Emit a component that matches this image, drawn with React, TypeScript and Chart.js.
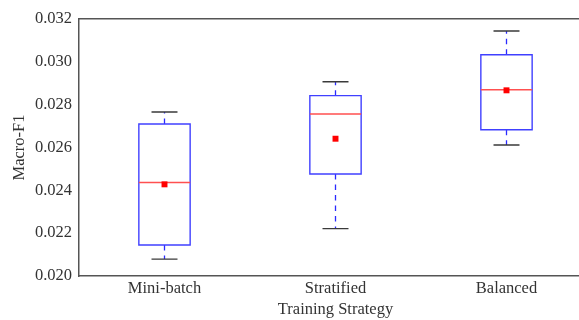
import React, { useEffect, useRef } from "react";
import { Chart, registerables } from "chart.js";

Chart.register(...registerables);

const categories = ["Mini-batch", "Stratified", "Balanced"];
const whiskerLow = [0.02079, 0.02221, 0.02612];
const q1 = [0.02145, 0.02476, 0.02683];
const median = [0.02436, 0.02756, 0.0287];
const q3 = [0.0271, 0.02842, 0.03033];
const whiskerHigh = [0.02766, 0.02907, 0.03144];
const mean = [0.02428, 0.02641, 0.02867];
const yTicks = [0.02, 0.022, 0.024, 0.026, 0.028, 0.03, 0.032];

const BOX_HALF = 0.15;
const CAP_HALF = 0.076;

type P = { x: number; y: number | null };

function segs(list: P[][]): P[] {
  const out: P[] = [];
  list.forEach((s) => {
    out.push(...s);
    out.push({ x: s[0].x, y: null });
  });
  return out;
}

const FONT = { family: "'Liberation Serif', 'Times New Roman', serif", size: 16.5 };

export default function App() {
  const ref = useRef<HTMLCanvasElement | null>(null);

  useEffect(() => {
    if (!ref.current) return;
    const idx = categories.map((_, i) => i);

    const boxes = segs(
      idx.map((i) => [
        { x: i - BOX_HALF, y: q1[i] },
        { x: i + BOX_HALF, y: q1[i] },
        { x: i + BOX_HALF, y: q3[i] },
        { x: i - BOX_HALF, y: q3[i] },
        { x: i - BOX_HALF, y: q1[i] },
      ])
    );
    const medians = segs(
      idx.map((i) => [
        { x: i - BOX_HALF, y: median[i] },
        { x: i + BOX_HALF, y: median[i] },
      ])
    );
    const whiskers = segs([
      ...idx.map((i) => [
        { x: i, y: q3[i] },
        { x: i, y: whiskerHigh[i] },
      ]),
      ...idx.map((i) => [
        { x: i, y: q1[i] },
        { x: i, y: whiskerLow[i] },
      ]),
    ]);
    const caps = segs([
      ...idx.map((i) => [
        { x: i - CAP_HALF, y: whiskerHigh[i] },
        { x: i + CAP_HALF, y: whiskerHigh[i] },
      ]),
      ...idx.map((i) => [
        { x: i - CAP_HALF, y: whiskerLow[i] },
        { x: i + CAP_HALF, y: whiskerLow[i] },
      ]),
    ]);
    const means = idx.map((i) => ({ x: i, y: mean[i] }));

    const lineBase = {
      pointRadius: 0,
      pointHoverRadius: 0,
      spanGaps: false,
      fill: false,
      tension: 0,
      borderCapStyle: "butt" as const,
      borderJoinStyle: "miter" as const,
    };

    const chart = new Chart(ref.current, {
      type: "line",
      data: {
        datasets: [
          {
            label: "Mean",
            data: means,
            showLine: false,
            pointStyle: "rect",
            pointRadius: 4.2,
            pointBackgroundColor: "#ff0000",
            pointBorderColor: "#ff0000",
            pointBorderWidth: 0,
          },
          { ...lineBase, label: "Median", data: medians, borderColor: "#ff5050", borderWidth: 1.5 },
          { ...lineBase, label: "Box", data: boxes, borderColor: "#4040ff", borderWidth: 1.4, borderCapStyle: "square" as const },
          { ...lineBase, label: "Caps", data: caps, borderColor: "#3a3a3a", borderWidth: 1.4 },
          { ...lineBase, label: "Whiskers", data: whiskers, borderColor: "#2a2aff", borderWidth: 1.3, borderDash: [5.5, 5] },
        ] as any,
      },
      options: {
        animation: false,
        responsive: false,
        maintainAspectRatio: false,
        events: [],
        layout: { padding: { top: 19, right: 8, bottom: 0, left: 0 } },
        plugins: { legend: { display: false }, tooltip: { enabled: false } },
        scales: {
          x: {
            type: "linear",
            position: "bottom",
            min: -0.5,
            max: 2.5,
            afterBuildTicks: (scale: any) => {
              scale.ticks = categories.map((_, i) => ({ value: i }));
            },
            afterFit: (scale: any) => {
              scale.height = 44;
            },
            ticks: {
              callback: (v: any) => categories[Math.round(Number(v))],
              font: FONT,
              color: "#333",
              padding: 3,
              maxRotation: 0,
              autoSkip: false,
            },
            grid: { display: false, drawTicks: false },
            border: { display: true, color: "#555", width: 1.5 },
            title: {
              display: true,
              text: "Training Strategy",
              font: FONT,
              color: "#333",
              padding: { top: 0, bottom: 0 },
            },
          },
          x2: {
            type: "linear",
            position: "top",
            min: -0.5,
            max: 2.5,
            afterFit: (scale: any) => {
              scale.height = 0;
            },
            ticks: { display: false },
            grid: { display: false, drawTicks: false },
            border: { display: true, color: "#555", width: 1.5 },
          },
          y: {
            type: "linear",
            min: 0.02,
            max: 0.032,
            afterBuildTicks: (scale: any) => {
              scale.ticks = yTicks.map((v) => ({ value: v }));
            },
            afterFit: (scale: any) => {
              scale.width = 79;
            },
            ticks: {
              callback: (v: any) => Number(v).toFixed(3),
              font: FONT,
              color: "#333",
              padding: 7,
            },
            grid: { display: false, drawTicks: false },
            border: { display: true, color: "#555", width: 1.5 },
            title: {
              display: true,
              text: "Macro-F1",
              font: FONT,
              color: "#333",
              padding: { top: 10, bottom: 0 },
            },
          },
        },
      } as any,
    });
    return () => chart.destroy();
  }, []);

  return (
    <div style={{ position: "absolute", left: 0, top: 0, width: 579, height: 320, overflow: "hidden", background: "#fff" }}>
      <canvas ref={ref} width={600} height={320} style={{ display: "block", width: 600, height: 320 }} />
    </div>
  );
}
